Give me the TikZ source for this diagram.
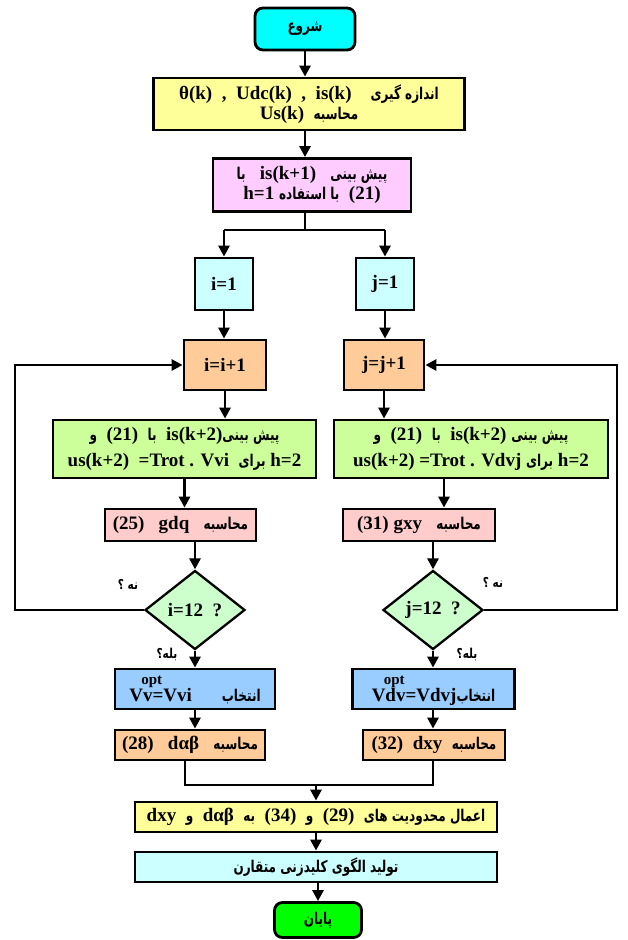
\documentclass[tikz,border=0pt]{standalone}
\usepackage{fontspec}
\usepackage{graphicx}
\setmainfont{Liberation Serif}
\newfontfamily\persianfont[Script=Arabic]{DejaVu Sans}
\TeXXeTstate=1
\usetikzlibrary{shapes.geometric,arrows.meta}
\newcommand\pe[1]{\scalebox{1}[1.35]{\persianfont\bfseries\fontsize{12}{14}\selectfont\beginR #1\endR}}
\newcommand\pesmall[1]{\scalebox{1}[1.3]{\persianfont\bfseries\fontsize{10.5}{12}\selectfont\beginR #1\endR}}
\definecolor{cStart}{HTML}{00FFFF}
\definecolor{cYel}{HTML}{FFFF99}
\definecolor{cMag}{HTML}{FFCCFF}
\definecolor{cLcyan}{HTML}{CCFFFF}
\definecolor{cOrange}{HTML}{FFCC99}
\definecolor{cGreen}{HTML}{CCFF99}
\definecolor{cPink}{HTML}{FFCCCC}
\definecolor{cDia}{HTML}{CCFFCC}
\definecolor{cBlue}{HTML}{99CCFF}
\definecolor{cEnd}{HTML}{00FF00}
\tikzset{
  box/.style={draw, line width=2.8pt, inner sep=1pt, align=center,
    font=\bfseries\fontsize{19}{20}\selectfont},
  term/.style={box, rounded corners=8pt},
  dec/.style={draw, line width=2.3pt, shape=diamond, inner sep=0pt, aspect=1.27,
    fill=cDia, font=\bfseries\fontsize{19}{20}\selectfont},
  arr/.style={line width=2.8pt, -{Triangle[length=11pt,width=11pt]}},
  ln/.style={line width=2.8pt},
  lbl/.style={inner sep=0pt}
}
\begin{document}
\begin{tikzpicture}[x=1pt,y=-1pt]
\useasboundingbox (0,0) rectangle (627,940);
% nodes
\node[term, fill=cStart, minimum width=100pt, minimum height=42pt] (start) at (305,29) {\pe{شروع}};
\node[box, fill=cYel, minimum width=311pt, minimum height=52pt] (meas) at (309,104)
  {θ(k)~~,~~Udc(k)~~,~~is(k)\quad\pe{اندازه گیری}\\Us(k)~~\pe{محاسبه}};
\node[box, fill=cMag, minimum width=198pt, minimum height=53pt] (pred1) at (312,185)
  {\pe{با}~~~is(k+1)~~~\pe{پیش بینی}\\h=1~\pe{با استفاده}~~(21)};
\node[box, fill=cLcyan, minimum width=58pt, minimum height=52pt] (i1) at (224,284) {i=1};
\node[box, fill=cLcyan, minimum width=58pt, minimum height=52pt] (j1) at (385,284) {j=1};
\node[box, fill=cOrange, minimum width=82pt, minimum height=50pt] (ii) at (225,365) {i=i+1};
\node[box, fill=cOrange, minimum width=80pt, minimum height=50pt] (jj) at (384,365) {j=j+1};
\node[box, fill=cGreen, minimum width=263pt, minimum height=58pt] (gL) at (184.5,449)
  {\pe{و}~~(21)~~\pe{با}~~is(k+2)\pe{پیش بینی}\\[6pt]us(k+2)~~=Trot . Vvi~~\pe{برای}~h=2};
\node[box, fill=cGreen, minimum width=274pt, minimum height=58pt] (gR) at (471,449)
  {\pe{و}~~(21)~~\pe{با}~~is(k+2)~\pe{پیش بینی}\\[6pt]us(k+2)~=Trot . Vdvj~\pe{برای}~h=2};
\node[box, fill=cPink, minimum width=151pt, minimum height=32pt] (pL) at (180.5,525)
  {(25)~~~gdq~~~\pe{محاسبه}};
\node[box, fill=cPink, minimum width=152pt, minimum height=32pt] (pR) at (419,525)
  {(31)~gxy~~~\pe{محاسبه}};
\node[dec, minimum width=100pt, minimum height=79pt] (dL) at (195,610) {i=12~~?};
\node[dec, minimum width=100pt, minimum height=79pt] (dR) at (433,610) {j=12~~?};
\node[box, fill=cBlue, minimum width=160pt, minimum height=40pt, inner ysep=0pt] (bL) at (195,689)
  {\begin{tabular}[b]{@{}l@{}}\hspace{12pt}{\fontsize{15}{15}\selectfont opt}\\[-3pt]Vv=Vvi\end{tabular}\hspace{30pt}\pe{انتخاب}};
\node[box, fill=cBlue, minimum width=162pt, minimum height=40pt, inner ysep=0pt] (bR) at (433.5,689)
  {\begin{tabular}[b]{@{}l@{}}\hspace{12pt}{\fontsize{15}{15}\selectfont opt}\\[-3pt]Vdv=Vdvj\end{tabular}\pe{انتخاب}};
\node[box, fill=cOrange, minimum width=150pt, minimum height=30pt] (oL) at (190,745)
  {(28)~~~dαβ~~~\pe{محاسبه}};
\node[box, fill=cOrange, minimum width=142pt, minimum height=30pt] (oR) at (434,745)
  {(32)~~dxy~~\pe{محاسبه}};
\node[box, fill=cYel, minimum width=362pt, minimum height=30pt] (yB) at (316,817)
  {dxy~~\pe{و}~~dαβ~~\pe{به}~~(34)~~\pe{و}~~(29)~~\pe{اعمال محدودیت های}};
\node[box, fill=cLcyan, minimum width=362pt, minimum height=30pt] (cB) at (316,867)
  {\pe{تولید الگوی کلیدزنی متقارن}};
\node[term, fill=cEnd, minimum width=87pt, minimum height=35pt] (end) at (318,920) {\pe{پایان}};
% labels
\node[lbl] (noL) at (128,584) {\pesmall{نه ؟}};
\node[lbl] (noR) at (493,582) {\pesmall{نه ؟}};
\node[lbl] (yesL) at (167,654) {\pesmall{بله؟}};
\node[lbl] (yesR) at (467,654) {\pesmall{بله؟}};
% coordinates
\coordinate (brL) at (224,230);
\coordinate (brR) at (385,230);
\coordinate (lpL) at (15,365);
\coordinate (lpR) at (617,365);
\coordinate (mL) at (185,785);
\coordinate (mR) at (433,785);
\coordinate (mC) at (316,785);
% connectors
\draw[arr] (start.south) -- (start.south |- meas.north);
\draw[arr] (start.south |- meas.south) -- (start.south |- pred1.north);
\draw[ln] (start.south |- pred1.south) -- (start.south |- brL);
\draw[ln] (brL) -- (brR);
\draw[arr] (brL) -- (i1.north);
\draw[arr] (brR) -- (j1.north);
\draw[arr] (i1.south) -- (i1.south |- ii.north);
\draw[arr] (j1.south) -- (j1.south |- jj.north);
\draw[arr] (ii.south) -- (ii.south |- gL.north);
\draw[arr] (jj.south) -- (jj.south |- gR.north);
\draw[arr] (gL.south) -- (gL.south |- pL.north);
\draw[arr] ([xshift=-27pt]gR.south) -- ([xshift=-27pt]gR.south |- pR.north);
\draw[arr] (dL.north |- pL.south) -- (dL.north);
\draw[arr] (dR.north |- pR.south) -- (dR.north);
\draw[arr] (dL.south) -- (dL.south |- bL.north);
\draw[arr] (dR.south) -- (dR.south |- bR.north);
\draw[arr] (dL.south |- bL.south) -- (dL.south |- oL.north);
\draw[arr] (dR.south |- bR.south) -- (dR.south |- oR.north);
\draw[arr] (dL.west) -| (lpL) -- (ii.west);
\draw[arr] (dR.east) -| (lpR) -- (jj.east);
\draw[ln] (mL |- oL.south) -- (mL) -- (mR) -- (mR |- oR.south);
\draw[arr] (mC) -- (mC |- yB.north);
\draw[arr] (mC |- yB.south) -- (mC |- cB.north);
\draw[arr] (end.north |- cB.south) -- (end.north);
\end{tikzpicture}
\end{document}
